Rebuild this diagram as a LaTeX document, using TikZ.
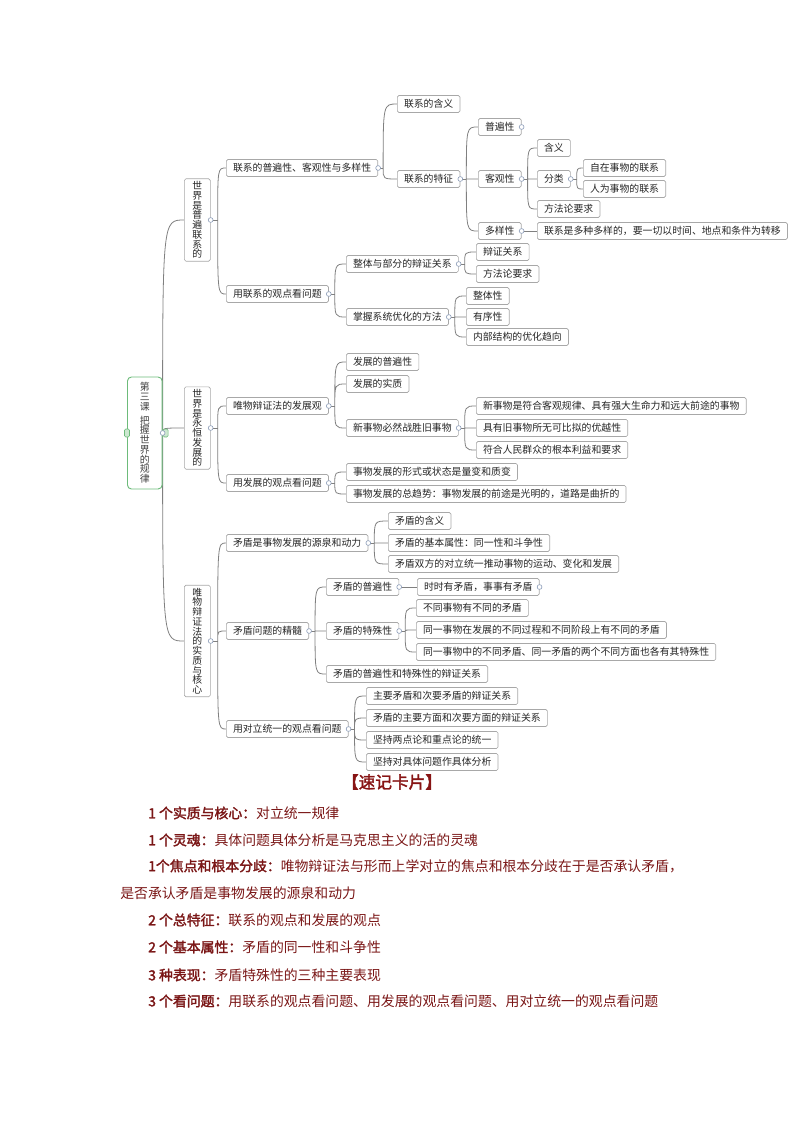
\documentclass[tikz,border=0pt]{standalone}
\usepackage{fontspec}
\usepackage{xcolor}
\usepackage{tikz}
\usetikzlibrary{backgrounds}
\newfontfamily\cjk{Noto Sans CJK SC}
\newfontfamily\cjkbold[FakeBold=2]{Noto Sans CJK SC}
\definecolor{boxgray}{HTML}{A8A8A8}
\definecolor{linegray}{HTML}{808080}
\definecolor{knobblue}{HTML}{8A9BB8}
\definecolor{rootgreen}{HTML}{6DBB7A}
\definecolor{cardred}{HTML}{7A1616}

\begin{document}
\begin{tikzpicture}[x=0.75pt, y=-0.75pt,
    topic/.style={rectangle, rounded corners=1.2pt, draw=boxgray, fill=white, line width=0.5pt, anchor=west, minimum height=12.8pt, inner xsep=5pt, inner ysep=0pt, text=black!85, font=\cjk\fontsize{7.4pt}{8.8pt}\selectfont},
    vtopic/.style={topic, align=center, minimum width=19.5pt, inner xsep=2pt, inner ysep=2pt, font=\cjk\fontsize{7.4pt}{7.3pt}\selectfont},
    rootbox/.style={vtopic, draw=rootgreen, line width=0.7pt, rounded corners=3pt, minimum width=26pt, minimum height=84pt, text=black!75},
    branch/.style={draw=linegray, line width=0.6pt, to path={.. controls (\tikztostart |- \tikztotarget) .. (\tikztotarget) \tikztonodes}},
    knob/.style={draw=knobblue, fill=white, line width=0.45pt},
    card/.style={anchor=west, inner sep=0pt, text=cardred, font=\cjk\fontsize{10.4pt}{12pt}\selectfont},
    cardhead/.style={inner sep=0pt, text=cardred!90!red, font=\cjkbold\fontsize{12.5pt}{14pt}\selectfont}
]
\useasboundingbox (0,0) rectangle (794,1123);

% Root topic (vertical text)
\node[rootbox] (root) at (127,433) {第\\三\\课\\[3pt]把\\握\\世\\界\\的\\规\\律};

% Main branches
\node[vtopic] (worldLink) at (184,220) {世\\界\\是\\普\\遍\\联\\系\\的};
\node[vtopic] (worldDev) at (184,428) {世\\界\\是\\永\\恒\\发\\展\\的};
\node[vtopic] (worldCore) at (184,641) {唯\\物\\辩\\证\\法\\的\\实\\质\\与\\核\\心};

% Branch 1: the world is universally linked
\node[topic] (lxA) at (226,168) {联系的普遍性、客观性与多样性};
\node[topic] (lxKan) at (226,294) {用联系的观点看问题};

\node[topic] (lxHanyi) at (397,104) {联系的含义};
\node[topic] (lxTezheng) at (397,179) {联系的特征};

\node[topic] (puBian) at (478,127) {普遍性};
\node[topic] (keGuan) at (478,179) {客观性};
\node[topic] (duoYang) at (478,231) {多样性};

\node[topic] (kgHanyi) at (537,148) {含义};
\node[topic] (kgFenlei) at (537,179) {分类};
\node[topic] (kgYaoqiu) at (537,209) {方法论要求};
\node[topic] (ziZai) at (583,168) {自在事物的联系};
\node[topic] (renWei) at (583,189) {人为事物的联系};
\node[topic] (dyDesc) at (537,231) {联系是多种多样的，要一切以时间、地点和条件为转移};

\node[topic] (zhengTi) at (346,264) {整体与部分的辩证关系};
\node[topic] (xiTong) at (346,317) {掌握系统优化的方法};
\node[topic] (ztGuanxi) at (476,252) {辩证关系};
\node[topic] (ztYaoqiu) at (476,274) {方法论要求};
\node[topic] (xtZhengti) at (466,296) {整体性};
\node[topic] (xtYouxu) at (466,317) {有序性};
\node[topic] (xtNeibu) at (466,337) {内部结构的优化趋向};

% Branch 2: the world is ever developing
\node[topic] (fzGuan) at (226,406) {唯物辩证法的发展观};
\node[topic] (fzKan) at (226,483) {用发展的观点看问题};

\node[topic] (fzPubian) at (346,362) {发展的普遍性};
\node[topic] (fzShizhi) at (346,384) {发展的实质};
\node[topic] (xinJiu) at (346,428) {新事物必然战胜旧事物};
\node[topic] (xjA) at (476,406) {新事物是符合客观规律、具有强大生命力和远大前途的事物};
\node[topic] (xjB) at (476,428) {具有旧事物所无可比拟的优越性};
\node[topic] (xjC) at (476,450) {符合人民群众的根本利益和要求};

\node[topic] (fzXingshi) at (346,472) {事物发展的形式或状态是量变和质变};
\node[topic] (fzQushi) at (346,494) {事物发展的总趋势：事物发展的前途是光明的，道路是曲折的};

% Branch 3: essence and core of dialectics
\node[topic] (mdYuan) at (226,543) {矛盾是事物发展的源泉和动力};
\node[topic] (mdJingsui) at (226,631) {矛盾问题的精髓};
\node[topic] (mdKan) at (226,729) {用对立统一的观点看问题};

\node[topic] (mdHanyi) at (388,521) {矛盾的含义};
\node[topic] (mdShuxing) at (388,543) {矛盾的基本属性：同一性和斗争性};
\node[topic] (mdTuidong) at (388,564) {矛盾双方的对立统一推动事物的运动、变化和发展};

\node[topic] (mdPubian) at (326,587) {矛盾的普遍性};
\node[topic] (mdTeshu) at (326,631) {矛盾的特殊性};
\node[topic] (mdBianzheng) at (326,674) {矛盾的普遍性和特殊性的辩证关系};
\node[topic] (pbShishi) at (417,587) {时时有矛盾，事事有矛盾};
\node[topic] (tsA) at (416,608) {不同事物有不同的矛盾};
\node[topic] (tsB) at (416,630) {同一事物在发展的不同过程和不同阶段上有不同的矛盾};
\node[topic] (tsC) at (416,652) {同一事物中的不同矛盾、同一矛盾的两个不同方面也各有其特殊性};

\node[topic] (kanA) at (366,696) {主要矛盾和次要矛盾的辩证关系};
\node[topic] (kanB) at (366,718) {矛盾的主要方面和次要方面的辩证关系};
\node[topic] (kanC) at (366,740) {坚持两点论和重点论的统一};
\node[topic] (kanD) at (366,762) {坚持对具体问题作具体分析};

% Connectors (behind the boxes)
\begin{scope}[on background layer]
\draw[branch] (root.east) to (worldLink.west) (root.east) to (worldDev.west) (root.east) to (worldCore.west);

\draw[branch] (worldLink.east) -- ++(7,0) coordinate (sLink);
\draw[branch] (sLink) to (lxA.west) (sLink) to (lxKan.west);
\draw[branch] (lxA.east) -- ++(5,0) coordinate (sLxA);
\draw[branch] (sLxA) to (lxHanyi.west) (sLxA) to (lxTezheng.west);
\draw[branch] (lxTezheng.east) -- ++(6,0) coordinate (sTezheng);
\draw[branch] (sTezheng) to (puBian.west) (sTezheng) to (keGuan.west) (sTezheng) to (duoYang.west);
\draw[branch] (keGuan.east) -- ++(6,0) coordinate (sKeguan);
\draw[branch] (sKeguan) to (kgHanyi.west) (sKeguan) to (kgFenlei.west) (sKeguan) to (kgYaoqiu.west);
\draw[branch] (kgFenlei.east) -- ++(6,0) coordinate (sFenlei);
\draw[branch] (sFenlei) to (ziZai.west) (sFenlei) to (renWei.west);
\draw[branch] (duoYang.east) -- (dyDesc.west);
\draw[branch] (lxKan.east) -- ++(6,0) coordinate (sLxKan);
\draw[branch] (sLxKan) to (zhengTi.west) (sLxKan) to (xiTong.west);
\draw[branch] (zhengTi.east) -- ++(6,0) coordinate (sZhengti);
\draw[branch] (sZhengti) to (ztGuanxi.west) (sZhengti) to (ztYaoqiu.west);
\draw[branch] (xiTong.east) -- ++(6,0) coordinate (sXitong);
\draw[branch] (sXitong) to (xtZhengti.west) (sXitong) to (xtYouxu.west) (sXitong) to (xtNeibu.west);

\draw[branch] (worldDev.east) -- ++(7,0) coordinate (sDev);
\draw[branch] (sDev) to (fzGuan.west) (sDev) to (fzKan.west);
\draw[branch] (fzGuan.east) -- ++(6,0) coordinate (sFzGuan);
\draw[branch] (sFzGuan) to (fzPubian.west) (sFzGuan) to (fzShizhi.west) (sFzGuan) to (xinJiu.west);
\draw[branch] (xinJiu.east) -- ++(6,0) coordinate (sXinJiu);
\draw[branch] (sXinJiu) to (xjA.west) (sXinJiu) to (xjB.west) (sXinJiu) to (xjC.west);
\draw[branch] (fzKan.east) -- ++(6,0) coordinate (sFzKan);
\draw[branch] (sFzKan) to (fzXingshi.west) (sFzKan) to (fzQushi.west);

\draw[branch] (worldCore.east) -- ++(7,0) coordinate (sCore);
\draw[branch] (sCore) to (mdYuan.west) (sCore) to (mdJingsui.west) (sCore) to (mdKan.west);
\draw[branch] (mdYuan.east) -- ++(6,0) coordinate (sYuan);
\draw[branch] (sYuan) to (mdHanyi.west) (sYuan) to (mdShuxing.west) (sYuan) to (mdTuidong.west);
\draw[branch] (mdJingsui.east) -- ++(6,0) coordinate (sJingsui);
\draw[branch] (sJingsui) to (mdPubian.west) (sJingsui) to (mdTeshu.west) (sJingsui) to (mdBianzheng.west);
\draw[branch] (mdPubian.east) -- (pbShishi.west);
\draw[branch] (mdTeshu.east) -- ++(6,0) coordinate (sTeshu);
\draw[branch] (sTeshu) to (tsA.west) (sTeshu) to (tsB.west) (sTeshu) to (tsC.west);
\draw[branch] (mdKan.east) -- ++(6,0) coordinate (sMdKan);
\draw[branch] (sMdKan) to (kanA.west) (sMdKan) to (kanB.west) (sMdKan) to (kanC.west) (sMdKan) to (kanD.west);
\end{scope}

% Collapse knobs
\draw[draw=rootgreen, fill=rootgreen!35, line width=0.4pt, rounded corners=1pt] ([shift={(-2.5,-4)}]root.west) rectangle ++(5,8) ([shift={(0.5,-4)}]root.east) rectangle ++(5,8);
\draw[knob] (root.east) circle (1.8pt) (worldLink.east) circle (1.8pt) (worldDev.east) circle (1.8pt) (worldCore.east) circle (1.8pt);
\draw[knob] (lxA.east) circle (1.8pt) (lxTezheng.east) circle (1.8pt) (puBian.east) circle (1.8pt) (keGuan.east) circle (1.8pt) (kgFenlei.east) circle (1.8pt) (duoYang.east) circle (1.8pt);
\draw[knob] (lxKan.east) circle (1.8pt) (zhengTi.east) circle (1.8pt) (xiTong.east) circle (1.8pt) (fzGuan.east) circle (1.8pt) (xinJiu.east) circle (1.8pt) (fzKan.east) circle (1.8pt);
\draw[knob] (mdYuan.east) circle (1.8pt) (mdJingsui.east) circle (1.8pt) (mdPubian.east) circle (1.8pt) (pbShishi.east) circle (1.8pt) (mdTeshu.east) circle (1.8pt) (mdKan.east) circle (1.8pt);

% Quick-memo card
\node[cardhead] (cardTitle) at (392,782) {【速记卡片】};
\node[card] (cardA) at (148,813) {{\cjkbold 1 个实质与核心：}对立统一规律};
\node[card] (cardB) at (148,840) {{\cjkbold 1 个灵魂：}具体问题具体分析是马克思主义的活的灵魂};
\node[card] (cardC) at (148,866) {{\cjkbold 1个焦点和根本分歧：}唯物辩证法与形而上学对立的焦点和根本分歧在于是否承认矛盾，};
\node[card] (cardCc) at (120,893) {是否承认矛盾是事物发展的源泉和动力};
\node[card] (cardD) at (148,920) {{\cjkbold 2 个总特征：}联系的观点和发展的观点};
\node[card] (cardE) at (148,947) {{\cjkbold 2 个基本属性：}矛盾的同一性和斗争性};
\node[card] (cardF) at (148,975) {{\cjkbold 3 种表现：}矛盾特殊性的三种主要表现};
\node[card] (cardG) at (148,1001) {{\cjkbold 3 个看问题：}用联系的观点看问题、用发展的观点看问题、用对立统一的观点看问题};
\end{tikzpicture}
\end{document}
